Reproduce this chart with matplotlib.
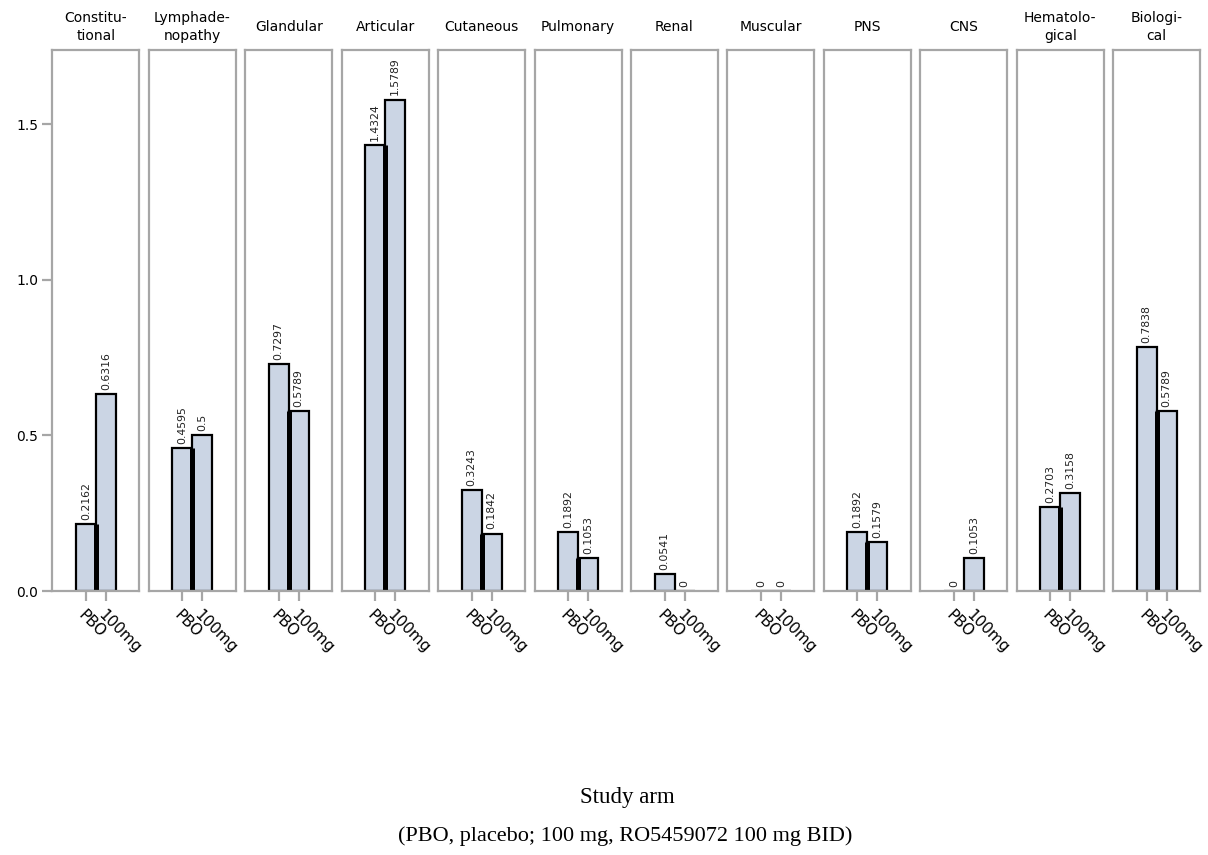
import matplotlib
matplotlib.use("Agg")
import matplotlib.pyplot as plt

categories = ["Constitu-\ntional", "Lymphade-\nnopathy", "Glandular", "Articular",
              "Cutaneous", "Pulmonary", "Renal", "Muscular", "PNS", "CNS",
              "Hematolo-\ngical", "Biologi-\ncal"]
arms = ["PBO", "100mg"]
pbo = [0.2162, 0.4595, 0.7297, 1.4324, 0.3243, 0.1892, 0.0541, 0, 0.1892, 0, 0.2703, 0.7838]
mg100 = [0.6316, 0.5, 0.5789, 1.5789, 0.1842, 0.1053, 0, 0, 0.1579, 0.1053, 0.3158, 0.5789]
yticks = [0.0, 0.5, 1.0, 1.5]
xlabel1 = "Study arm"
xlabel2 = "(PBO, placebo; 100 mg, RO5459072 100 mg BID)"

W, H = 1208, 855
fig = plt.figure(figsize=(W / 100, H / 100), dpi=100)
plt.rcParams['font.family'] = ['DejaVu Sans']

gray = '#a6a6a6'
fill = '#cbd5e4'
left0, pitch, pw = 52.3, 96.45, 87.0
top, bottom = 50.0, 591.0
ymax = 1.738

for i, cat in enumerate(categories):
    l = left0 + i * pitch
    ax = fig.add_axes([l / W, 1 - bottom / H, pw / W, (bottom - top) / H])
    vals = [pbo[i], mg100[i]]
    xs = [0, 1]
    ax.bar(xs, vals, width=1.0, color=fill, edgecolor='black', linewidth=1.6, zorder=2)
    ax.vlines(0.5, 0, min(vals), color='black', linewidth=3.6, zorder=2.1)
    for x, v in zip(xs, vals):
        ax.annotate(f"{v:g}", (x, v), xytext=(0, 3), textcoords='offset points',
                    rotation=90, ha='center', va='bottom', fontsize=7.8, color='#222222')
    ax.set_xlim(0.5 - 2.175, 0.5 + 2.175)
    ax.set_ylim(0, ymax)
    ax.set_xticks(xs)
    ax.set_xticklabels(arms, rotation=-45, ha='left', va='top', rotation_mode='anchor',
                       fontsize=11)
    for s in ax.spines.values():
        s.set_color(gray)
        s.set_linewidth(1.6)
        s.set_zorder(2.5)
    ax.tick_params(axis='x', length=7, width=1.6, color=gray, pad=5)
    if i == 0:
        ax.set_yticks(yticks)
        ax.set_yticklabels([f"{t:.1f}" for t in yticks], fontsize=10)
        ax.tick_params(axis='y', length=7, width=1.6, color=gray, pad=3)
    else:
        ax.set_yticks([])
    ax.text(0.5, 1 + 23 / (bottom - top), cat, transform=ax.transAxes, ha='center',
            va='center', fontsize=10, linespacing=1.45)

fig.text(627 / W, 1 - 797 / H, xlabel1, ha='center', va='center', fontsize=16.5,
         family='Liberation Serif')
fig.text(625 / W, 1 - 836 / H, xlabel2, ha='center', va='center', fontsize=16,
         family='Liberation Serif')

fig.savefig("out.png", dpi=100)
